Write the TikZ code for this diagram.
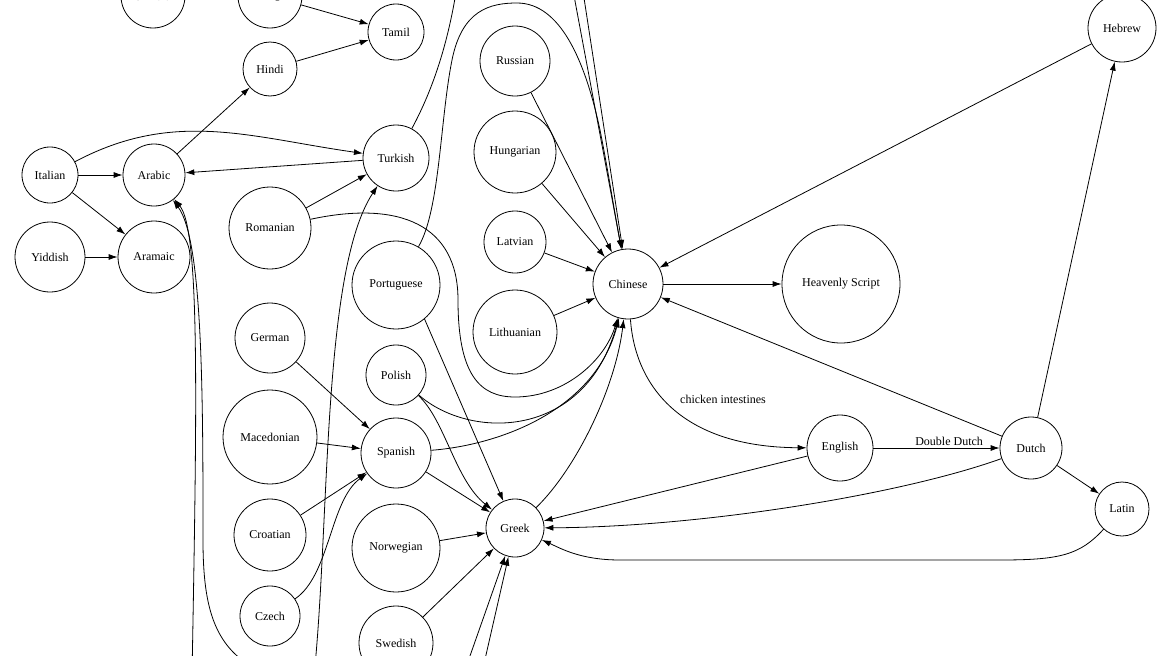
\documentclass[tikz,border=0pt]{standalone}
\usepackage{fontspec}
\setmainfont{Liberation Serif}
\usetikzlibrary{arrows.meta, positioning}

\begin{document}
\begin{tikzpicture}[x=1pt, y=1pt,
		lang/.style={draw, circle, inner sep=0pt, line width=0.8pt, font=\fontsize{12}{14}\selectfont},
		lbl/.style={inner sep=2pt, font=\fontsize{12}{14}\selectfont},
		link/.style={-{Latex[length=9pt,width=6pt]}, line width=0.8pt}]
			\useasboundingbox (0,0) rectangle (1168,-656);
			\clip (0,0) rectangle (1168,-656);
			\node[lang, minimum size=64pt] (sinhala) at (153,4) {Sinhala};
			\node[lang, minimum size=64pt] (telugu) at (270,4) {Telugu};
			\node[lang, minimum size=56pt] (tamil) at (396,-32) {Tamil};
			\node[lang, minimum size=54pt] (hindi) at (270,-69) {Hindi};
			\node[lang, minimum size=56pt] (italian) at (50,-175) {Italian};
			\node[lang, minimum size=62pt] (arabic) at (154,-175) {Arabic};
			\node[lang, minimum size=66pt] (turkish) at (396,-158) {Turkish};
			\node[lang, minimum size=70pt] (yiddish) at (50,-257) {Yiddish};
			\node[lang, minimum size=72pt] (aramaic) at (154,-257) {Aramaic};
			\node[lang, minimum size=82pt] (romanian) at (270,-228) {Romanian};
			\node[lang, minimum size=88pt] (portuguese) at (396,-285) {Portuguese};
			\node[lang, minimum size=70pt] (german) at (270,-338) {German};
			\node[lang, minimum size=60pt] (polish) at (396,-375) {Polish};
			\node[lang, minimum size=94pt] (macedonian) at (270,-437) {Macedonian};
			\node[lang, minimum size=70pt] (spanish) at (396,-453) {Spanish};
			\node[lang, minimum size=72pt] (croatian) at (270,-535) {Croatian};
			\node[lang, minimum size=60pt] (czech) at (270,-616) {Czech};
			\node[lang, minimum size=88pt] (norwegian) at (396,-548) {Norwegian};
			\node[lang, minimum size=74pt] (swedish) at (396,-643) {Swedish};
			\node[lang, minimum size=58pt] (greek) at (515,-528) {Greek};
			\node[lang, minimum size=70pt] (russian) at (515,-61) {Russian};
			\node[lang, minimum size=82pt] (hungarian) at (515,-152) {Hungarian};
			\node[lang, minimum size=62pt] (latvian) at (515,-242) {Latvian};
			\node[lang, minimum size=84pt] (lithuanian) at (515,-332) {Lithuanian};
			\node[lang, minimum size=70pt] (chinese) at (628,-284) {Chinese};
			\node[lang, minimum size=118pt] (heavenly) at (841,-284) {Heavenly Script};
			\node[lang, minimum size=68pt] (hebrew) at (1122,-28) {Hebrew};
			\node[lang, minimum size=66pt] (english) at (840,-448) {English};
			\node[lang, minimum size=62pt] (dutch) at (1031,-448) {Dutch};
			\node[lang, minimum size=54pt] (latin) at (1122,-509) {Latin};
			\coordinate (uptop) at (458,20);
			\coordinate (topa) at (572,15);
			\coordinate (topb) at (582,15);
			\coordinate (downa) at (314,-676);
			\coordinate (downb) at (192,-676);
			\coordinate (downc) at (262,-672);
			\coordinate (downd) at (458,-690);
			\coordinate (downe) at (478,-690);
			\draw[link] (telugu) -- (tamil);
			\draw[link] (hindi) -- (tamil);
			\draw[link] (arabic) -- (hindi);
			\draw[link] (italian) -- (arabic);
			\draw[link] (italian) -- (aramaic);
			\draw[link] (yiddish) -- (aramaic);
			\draw[link] (italian) to[out=28, in=172] (turkish);
			\draw[link] (turkish) -- (arabic);
			\draw[link] (romanian) -- (turkish);
			\draw[link] (romanian) .. controls (400,-200) and (458,-225) .. (458,-300) .. controls (458,-375) and (480,-397) .. (515,-397) .. controls (565,-397) and (605,-360) .. (chinese);
			\draw[link] (portuguese) .. controls (440,-210) and (440,-120) .. (452,-60) .. controls (462,-10) and (490,-3) .. (517,-3) .. controls (560,-3) and (585,-60) .. (600,-130) .. controls (608,-170) and (615,-215) .. (chinese);
			\draw[link] (turkish) .. controls (438,-80) and (450,-30) .. (uptop);
			\draw[link] (topa) -- (chinese);
			\draw[link] (topb) -- (chinese);
			\draw[link] (russian) -- (chinese);
			\draw[link] (hungarian) -- (chinese);
			\draw[link] (latvian) -- (chinese);
			\draw[link] (lithuanian) -- (chinese);
			\draw[link] (hebrew) -- (chinese);
			\draw[link] (dutch) -- (chinese);
			\draw[link] (chinese) -- (heavenly);
			\draw[link] (chinese) .. controls (635,-385) and (680,-447) .. (english);
			\node[lbl] (chickentxt) at (723,-399) {chicken intestines};
			\draw[link] (english) -- node[lbl, above, pos=0.6] (doubletxt) {Double Dutch} (dutch);
			\draw[link] (dutch) -- (hebrew);
			\draw[link] (dutch) -- (latin);
			\draw[link] (latin) .. controls (1080,-555) and (1060,-560) .. (1000,-560) -- (620,-560) .. controls (580,-560) and (560,-548) .. (greek);
			\draw[link] (english) -- (greek);
			\draw[link] (dutch) .. controls (900,-495) and (700,-527) .. (greek);
			\draw[link] (greek) .. controls (575,-470) and (615,-390) .. (chinese);
			\draw[link] (spanish) .. controls (500,-445) and (595,-410) .. (chinese);
			\draw[link] (polish) .. controls (470,-440) and (585,-440) .. (chinese);
			\draw[link] (polish) .. controls (445,-420) and (455,-480) .. (greek);
			\draw[link] (portuguese.-50) -- (greek);
			\draw[link] (spanish) -- (greek);
			\draw[link] (norwegian) -- (greek);
			\draw[link] (swedish) -- (greek);
			\draw[link] (german) -- (spanish);
			\draw[link] (macedonian) -- (spanish);
			\draw[link] (croatian) -- (spanish);
			\draw[link] (czech) .. controls (330,-575) and (330,-500) .. (spanish);
			\draw[link] (downa) .. controls (330,-520) and (322,-270) .. (turkish);
			\draw[link] (downb) .. controls (197,-400) and (200,-230) .. (arabic);
			\draw[link] (downc) .. controls (215,-650) and (203,-610) .. (203,-540) .. controls (203,-400) and (203,-240) .. (arabic);
			\draw[link] (downd) -- (greek);
			\draw[link] (downe) -- (greek);
		\end{tikzpicture}
\end{document}
